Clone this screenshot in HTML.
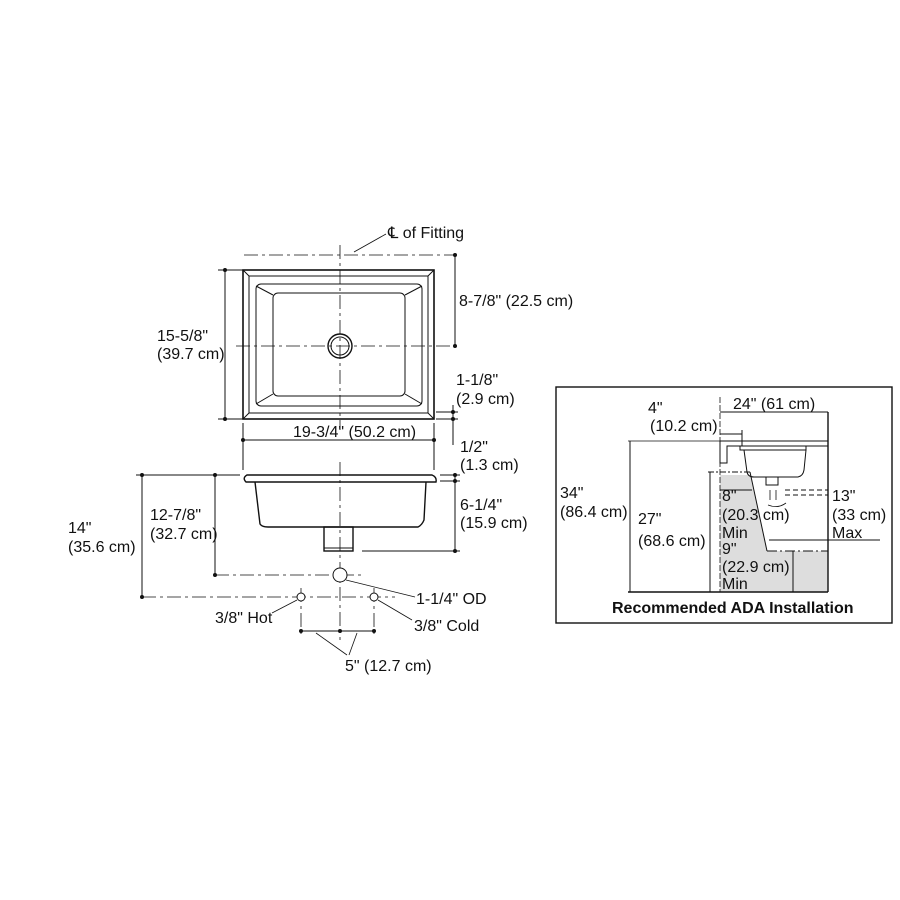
<!DOCTYPE html>
<html><head><meta charset="utf-8"><style>
html,body{margin:0;padding:0;background:#fff}
svg{display:block}
text{font-family:"Liberation Sans",Arial,sans-serif;font-size:16px;fill:#111}
</style></head><body>
<svg width="900" height="900" viewBox="0 0 900 900" xmlns="http://www.w3.org/2000/svg">
<g fill="none" stroke="#111" stroke-width="1">
<rect x="243" y="270" width="191" height="149" stroke-width="1.6"/>
<rect x="249" y="276" width="179" height="137"/>
<rect x="256" y="284" width="166" height="122" rx="5"/>
<rect x="273" y="293" width="132" height="103" rx="5"/>
<line x1="256" y1="286" x2="273" y2="295"/><line x1="422" y1="286" x2="405" y2="295"/>
<line x1="256" y1="404" x2="273" y2="394"/><line x1="422" y1="404" x2="405" y2="394"/>
<line x1="243" y1="270" x2="249" y2="276"/><line x1="434" y1="270" x2="428" y2="276"/>
<line x1="243" y1="419" x2="249" y2="413"/><line x1="434" y1="419" x2="428" y2="413"/>
<circle cx="340" cy="346" r="12" stroke-width="1.4"/><circle cx="340" cy="346" r="9"/>
<g stroke-dasharray="14,4,3,4" stroke-width="0.8">
<line x1="236" y1="346" x2="458" y2="346"/>
<line x1="244" y1="255" x2="457" y2="255"/>
<line x1="340" y1="245" x2="340" y2="430"/>
<line x1="340" y1="462" x2="340" y2="640"/>
<line x1="215" y1="575" x2="365" y2="575"/>
<line x1="142" y1="597" x2="395" y2="597"/>
<line x1="301" y1="588" x2="301" y2="635"/>
<line x1="374" y1="588" x2="374" y2="635"/>
</g>
<line x1="354" y1="252" x2="386" y2="234" stroke-width="0.8"/>
<line x1="225" y1="270" x2="225" y2="419"/><line x1="218" y1="270" x2="243" y2="270"/><line x1="218" y1="419" x2="243" y2="419"/>
<line x1="455" y1="255" x2="455" y2="346"/>
<line x1="453" y1="405" x2="453" y2="445"/><line x1="436" y1="412" x2="458" y2="412"/><line x1="436" y1="419" x2="458" y2="419"/>
<line x1="243" y1="423" x2="243" y2="470"/><line x1="434" y1="423" x2="434" y2="470"/>
<line x1="243" y1="440" x2="434" y2="440"/>
<path d="M247 475 L432 475 Q437 477 436 482 L246 482 Q242 478 247 475 Z" stroke-width="1.4"/>
<path d="M255 482 L260 524 Q262 527 268 527 L418 527 Q422 525 424 520 L426 482" stroke-width="1.4"/>
<rect x="324" y="527" width="29" height="24" stroke-width="1.4"/>
<line x1="324" y1="548" x2="353" y2="548"/>
<line x1="455" y1="475" x2="455" y2="551"/><line x1="440" y1="475" x2="460" y2="475"/><line x1="440" y1="481" x2="460" y2="481"/><line x1="362" y1="551" x2="460" y2="551"/>
<line x1="142" y1="475" x2="142" y2="597"/><line x1="136" y1="475" x2="240" y2="475"/>
<line x1="215" y1="475" x2="215" y2="575"/>
<circle cx="340" cy="575" r="7" fill="#fff"/>
<circle cx="301" cy="597" r="4" fill="#fff"/><circle cx="374" cy="597" r="4" fill="#fff"/>
<line x1="346" y1="580" x2="415" y2="597" stroke-width="0.8"/>
<line x1="297" y1="600" x2="272" y2="613" stroke-width="0.8"/>
<line x1="378" y1="600" x2="412" y2="620" stroke-width="0.8"/>
<line x1="301" y1="631" x2="374" y2="631"/>
<line x1="316" y1="633" x2="347" y2="655" stroke-width="0.8"/><line x1="357" y1="633" x2="349" y2="655" stroke-width="0.8"/>
<rect x="556" y="387" width="336" height="236" stroke-width="1.4"/>
<polygon points="720,475 750,475 767,551 828,551 828,592 720,592" fill="#ddd" stroke="none"/>
<line x1="750" y1="472" x2="767" y2="551"/>
<line x1="767" y1="551" x2="828" y2="551" stroke-dasharray="10,3,2,3"/>
<line x1="828" y1="412" x2="828" y2="592" stroke-width="1.4"/>
<line x1="628" y1="592" x2="828" y2="592" stroke-width="1.4"/>
<path d="M720 441 L828 441 M720 441 L720 463 L727 463 L727 446 L828 446"/>
<path d="M740 446 L806 446 L806 450 L740 450 Z"/>
<path d="M744 450 L747 472 Q748 477 754 477 L798 477 Q803 476 804 470 L806 450"/>
<rect x="766" y="477" width="12" height="8"/>
<line x1="720" y1="397" x2="720" y2="592" stroke-dasharray="6,2" stroke-width="0.8"/>
<line x1="720" y1="412" x2="828" y2="412"/>
<line x1="720" y1="434" x2="742" y2="434"/><line x1="742" y1="430" x2="742" y2="446"/>
<line x1="628" y1="441" x2="720" y2="441" stroke-width="0.8"/>
<line x1="630" y1="441" x2="630" y2="592"/>
<line x1="708" y1="472" x2="750" y2="472" stroke-dasharray="6,2,2,2"/>
<line x1="710" y1="472" x2="710" y2="592"/>
<line x1="720" y1="490" x2="752" y2="490"/>
<line x1="793" y1="551" x2="793" y2="592"/>
<line x1="769" y1="540" x2="880" y2="540"/>
<line x1="785" y1="490" x2="828" y2="490" stroke-dasharray="5,3"/>
<line x1="785" y1="495" x2="828" y2="495" stroke-dasharray="5,3"/>
<path d="M770 490 l0 10 M776 490 l0 10 M768 505 q10 4 18 -2" stroke-width="0.8"/>
</g>
<g fill="#111">
<circle cx="225" cy="270" r="2"/><circle cx="225" cy="419" r="2"/>
<circle cx="455" cy="255" r="2"/><circle cx="455" cy="346" r="2"/>
<circle cx="453" cy="412" r="2"/><circle cx="453" cy="419" r="2"/>
<circle cx="243" cy="440" r="2"/><circle cx="434" cy="440" r="2"/>
<circle cx="455" cy="475" r="2"/><circle cx="455" cy="481" r="2"/><circle cx="455" cy="551" r="2"/>
<circle cx="142" cy="475" r="2"/><circle cx="142" cy="597" r="2"/>
<circle cx="215" cy="475" r="2"/><circle cx="215" cy="575" r="2"/>
<circle cx="301" cy="631" r="2"/><circle cx="340" cy="631" r="2"/><circle cx="374" cy="631" r="2"/>
</g>
<text x="388" y="238">℄ of Fitting</text>
<text x="459" y="306">8-7/8" (22.5 cm)</text>
<text x="157" y="341">15-5/8"</text><text x="157" y="359">(39.7 cm)</text>
<text x="456" y="385">1-1/8"</text><text x="456" y="404">(2.9 cm)</text>
<text x="293" y="437">19-3/4" (50.2 cm)</text>
<text x="460" y="452">1/2"</text><text x="460" y="470">(1.3 cm)</text>
<text x="460" y="510">6-1/4"</text><text x="460" y="528">(15.9 cm)</text>
<text x="150" y="520">12-7/8"</text><text x="150" y="539">(32.7 cm)</text>
<text x="68" y="533">14"</text><text x="68" y="552">(35.6 cm)</text>
<text x="416" y="604">1-1/4" OD</text>
<text x="215" y="623">3/8" Hot</text>
<text x="414" y="631">3/8" Cold</text>
<text x="345" y="671">5" (12.7 cm)</text>
<text x="648" y="413">4"</text><text x="650" y="431">(10.2 cm)</text>
<text x="733" y="409">24" (61 cm)</text>
<text x="560" y="498">34"</text><text x="560" y="517">(86.4 cm)</text>
<text x="638" y="524">27"</text><text x="638" y="546">(68.6 cm)</text>
<text x="722" y="501">8"</text><text x="722" y="520">(20.3 cm)</text><text x="722" y="538">Min</text>
<text x="722" y="554">9"</text><text x="722" y="572">(22.9 cm)</text><text x="722" y="589">Min</text>
<text x="832" y="501">13"</text><text x="832" y="520">(33 cm)</text><text x="832" y="538">Max</text>
<text x="612" y="613" style="font-weight:bold;font-size:16px">Recommended ADA Installation</text>
</svg>
</body></html>
